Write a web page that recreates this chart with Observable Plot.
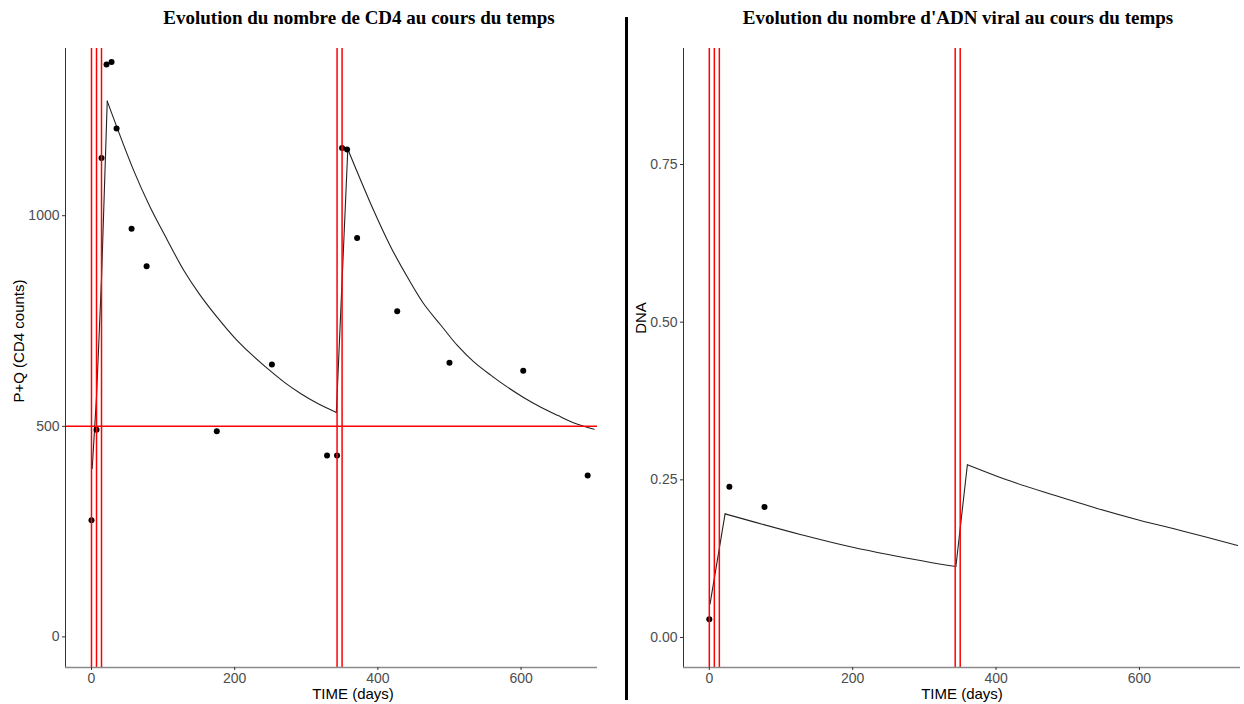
<!DOCTYPE html>
<html><head><meta charset="utf-8">
<script src="https://cdn.jsdelivr.net/npm/d3@7"></script>
<script src="https://cdn.jsdelivr.net/npm/@observablehq/plot@0.6"></script>
<style>
body{margin:0;background:#fff;width:1244px;height:704px;position:relative;overflow:hidden;font-family:"Liberation Sans",Arial,sans-serif}
.abs{position:absolute}
.title{font-family:"Liberation Serif","Times New Roman",serif;font-weight:bold;font-size:19px;color:#000;white-space:nowrap;transform:translate(-50%,-50%)}
.xlab{font-size:15px;color:#000;white-space:nowrap;transform:translate(-50%,-50%)}
.ylab{font-size:15px;color:#000;white-space:nowrap;transform:translate(-50%,-50%) rotate(-90deg)}
</style></head><body>
<div id="left" class="abs" style="left:0;top:0"></div>
<div id="right" class="abs" style="left:597px;top:0;background:#fff"></div>
<div class="abs title" style="left:359px;top:18px">Evolution du nombre de CD4 au cours du temps</div>
<div class="abs title" style="left:958px;top:18px">Evolution du nombre d'ADN viral au cours du temps</div>
<div class="abs xlab" style="left:353px;top:693px">TIME (days)</div>
<div class="abs xlab" style="left:962px;top:693px">TIME (days)</div>
<div class="abs ylab" style="left:18px;top:341px">P+Q (CD4 counts)</div>
<div class="abs ylab" style="left:640px;top:318px">DNA</div>
<div class="abs" style="left:625px;top:17px;width:3px;height:683px;background:#000"></div>
<script>
// ---- data ----
const injectionDays = [0, 7, 14, 343, 350];
const cd4Threshold = [500];

const cd4Days   = [0, 7, 14, 21, 28, 35, 56, 77, 175, 252, 329, 343, 350, 357, 371, 427, 500, 603, 693];
const cd4Values = [277, 492, 1137, 1359, 1365, 1207, 969, 880, 488, 647, 431, 431, 1161, 1157, 947, 773, 651, 632, 383];

const cd4FitDays   = [1, 7, 14, 22, 59, 82, 106, 129, 152, 176, 199, 222, 246, 269, 292, 316, 342, 358, 394, 418, 441, 464, 488, 511, 534, 558, 581, 604, 627, 651, 674, 702];
const cd4FitValues = [400, 570, 850, 1272, 1107, 1020, 942, 870, 811, 758, 712, 673, 637, 605, 578, 554, 533, 1158, 1013, 926, 855, 791, 740, 692, 653, 621, 593, 568, 546, 526, 508, 493];

const dnaDays   = [0, 28, 77];
const dnaValues = [0.029, 0.239, 0.207];

const dnaFitDays   = [1, 22, 128, 200, 309, 344, 360, 420, 480, 540, 600, 660, 737];
const dnaFitValues = [0.053, 0.196, 0.163, 0.143, 0.119, 0.1125, 0.274, 0.248, 0.226, 0.205, 0.186, 0.169, 0.146];

const xTicks = [0, 200, 400, 600];
const cd4Ticks = [0, 500, 1000];
const dnaTicks = [0, 0.25, 0.5, 0.75];

const cd4XDomain = [-36.3, 768.2];
const cd4YDomain = [-72.6, 1397];
const dnaXDomain = [-36, 741];
const dnaYDomain = [-0.0476, 0.934];

// ---- build ----
const toRows = (xs, ys) => xs.map((d, i) => ({day: d, value: ys[i]}));
// split a fitted curve into rising (straight) and decaying (smooth) pieces
function pieces(xs, ys) {
  const out = [];
  let dir = null, id = 0;
  for (let i = 1; i < xs.length; i++) {
    const d = ys[i] > ys[i - 1] ? "rise" : "decay";
    if (d !== dir) {
      id++; dir = d;
      out.push({day: xs[i - 1], value: ys[i - 1], seg: id, kind: d});
    }
    out.push({day: xs[i], value: ys[i], seg: id, kind: d});
  }
  return out;
}
const cd4Obs = toRows(cd4Days, cd4Values);
const dnaObs = toRows(dnaDays, dnaValues);
const cd4Fit = pieces(cd4FitDays, cd4FitValues);
const dnaFit = pieces(dnaFitDays, dnaFitValues);

const axisStyle = {fontSize: "14px", fontFamily: "'Liberation Sans', Arial, sans-serif", color: "#4d4d4d", background: "transparent", overflow: "visible"};

function fitMarks(rows) {
  return [
    Plot.line(rows.filter(r => r.kind === "rise"), {x: "day", y: "value", z: "seg", stroke: "#222", strokeWidth: 1.1}),
    Plot.line(rows.filter(r => r.kind === "decay"), {x: "day", y: "value", z: "seg", stroke: "#222", strokeWidth: 1.1, curve: "catmull-rom"})
  ];
}

const left = Plot.plot({
  width: 660, height: 704,
  marginLeft: 65, marginRight: 19, marginTop: 48, marginBottom: 37,
  x: {domain: cd4XDomain},
  y: {domain: cd4YDomain},
  style: axisStyle,
  marks: [
    ...fitMarks(cd4Fit),
    Plot.dot(cd4Obs, {x: "day", y: "value", r: 3, fill: "#000", stroke: "none"}),
    Plot.ruleX(injectionDays, {stroke: "#ff0000", strokeWidth: 1.5}),
    Plot.ruleY(cd4Threshold, {stroke: "#ff0000", strokeWidth: 1.5}),
    Plot.ruleX([cd4XDomain[0]], {stroke: "#333", strokeWidth: 1}),
    Plot.ruleY([cd4YDomain[0]], {stroke: "#8a8a8a", strokeWidth: 1.6}),
    Plot.axisX({ticks: xTicks, tickSize: 3, tickPadding: 3, label: null, stroke: "#333"}),
    Plot.axisY({ticks: cd4Ticks, tickSize: 3, tickPadding: 3, label: null, tickFormat: d3.format("d"), stroke: "#333"})
  ]
});
document.getElementById("left").appendChild(left);

const right = Plot.plot({
  width: 647, height: 704,
  marginLeft: 86, marginRight: 4, marginTop: 48, marginBottom: 37,
  x: {domain: dnaXDomain},
  y: {domain: dnaYDomain},
  style: {...axisStyle, background: "#fff"},
  marks: [
    ...fitMarks(dnaFit),
    Plot.dot(dnaObs, {x: "day", y: "value", r: 3, fill: "#000", stroke: "none"}),
    Plot.ruleX(injectionDays, {stroke: "#ff0000", strokeWidth: 1.5}),
    Plot.ruleX([dnaXDomain[0]], {stroke: "#333", strokeWidth: 1}),
    Plot.ruleY([dnaYDomain[0]], {stroke: "#8a8a8a", strokeWidth: 1.6}),
    Plot.axisX({ticks: xTicks, tickSize: 3, tickPadding: 3, label: null, stroke: "#333"}),
    Plot.axisY({ticks: dnaTicks, tickSize: 3, tickPadding: 3, label: null, tickFormat: d3.format(".2f"), stroke: "#333"})
  ]
});
document.getElementById("right").appendChild(right);
</script>
</body></html>
